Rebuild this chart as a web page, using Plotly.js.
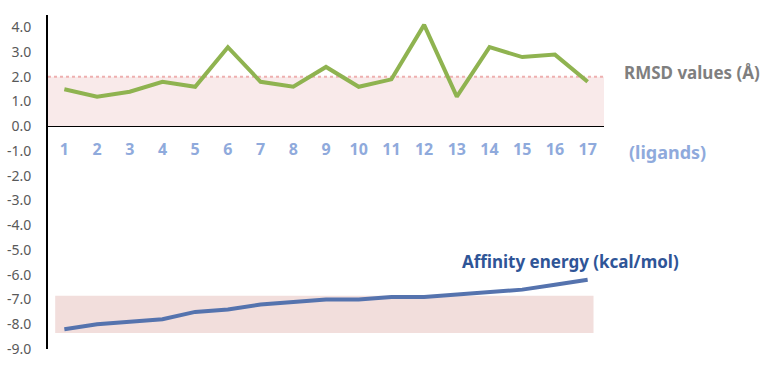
<!DOCTYPE html>
<html>
<head>
<meta charset="utf-8">
<script src="https://cdn.plot.ly/plotly-3.0.1.min.js"></script>
<style>html,body{margin:0;padding:0;background:#fff;}#chart{width:779px;height:367px;}</style>
</head>
<body>
<div id="chart"></div>
<script>
const ligands = [1,2,3,4,5,6,7,8,9,10,11,12,13,14,15,16,17];
const rmsd = [1.5,1.2,1.4,1.8,1.6,3.2,1.8,1.6,2.4,1.6,1.9,4.1,1.2,3.2,2.8,2.9,1.8];
const affinity = [-8.2,-8.0,-7.9,-7.8,-7.5,-7.4,-7.2,-7.1,-7.0,-7.0,-6.9,-6.9,-6.8,-6.7,-6.6,-6.4,-6.2];
const rmsdBand = [0, 2.0];
const rmsdThreshold = 2.0;
const affinityBand = [-8.35, -6.85];
const affinityBandX = [0.72, 17.18];
const yRange = [-9, 4.5];
const yTicks = [-9,-8,-7,-6,-5,-4,-3,-2,-1,0,1,2,3,4];

const traces = [
  {x: ligands, y: rmsd, type:'scatter', mode:'lines', line:{color:'#8fb350', width:4}, hoverinfo:'skip'},
  {x: ligands, y: affinity, type:'scatter', mode:'lines', line:{color:'#5573ae', width:4}, hoverinfo:'skip'}
];

const layout = {
  width: 779, height: 367,
  margin: {l:48, r:175, t:15, b:18},
  paper_bgcolor:'#fff', plot_bgcolor:'#fff',
  showlegend:false,
  font:{family:'Noto Sans, Open Sans, sans-serif'},
  xaxis: {
    range:[0.5,17.5], tickmode:'array', tickvals:ligands, ticktext:ligands.map(String),
    showgrid:false, zeroline:false, showline:false, ticks:'',
    anchor:'free', position:(0-yRange[0])/(yRange[1]-yRange[0]),
    ticklabelstandoff: 12,
    tickfont:{size:16, color:'#8faadc', family:'Noto Sans, sans-serif', weight:'bold'}
  },
  yaxis: {
    range:yRange, tickmode:'array', tickvals:yTicks, ticktext:yTicks.map(v=>v.toFixed(1)),
    showgrid:false, zeroline:true, zerolinecolor:'#000', zerolinewidth:1.5,
    showline:true, linecolor:'#000', linewidth:2, ticks:'',
    ticklabelstandoff: 12,
    tickfont:{size:14, color:'#595959'}
  },
  shapes: [
    {type:'rect', xref:'paper', yref:'y', x0:0, x1:1, y0:rmsdBand[0], y1:rmsdBand[1], fillcolor:'#f9eaea', line:{width:0}, layer:'below'},
    {type:'line', xref:'paper', yref:'y', x0:0, x1:1, y0:rmsdThreshold, y1:rmsdThreshold, line:{color:'#eeb0b0', width:2, dash:'dot'}, layer:'below'},
    {type:'rect', xref:'x', yref:'y', x0:affinityBandX[0], x1:affinityBandX[1], y0:affinityBand[0], y1:affinityBand[1], fillcolor:'#f2dedc', line:{width:0}, layer:'below'}
  ],
  annotations: [
    {text:'RMSD values (Å)', xref:'paper', yref:'paper', x:1.032, y:0.829, xanchor:'left', yanchor:'middle', showarrow:false,
     font:{size:17, color:'#7f7f7f', weight:'bold'}},
    {text:'(ligands)', xref:'paper', yref:'paper', x:1.041, y:0.59, xanchor:'left', yanchor:'middle', showarrow:false,
     font:{size:18, color:'#8faadc', weight:'bold'}},
    {text:'Affinity energy (kcal/mol)', xref:'paper', yref:'paper', x:0.741, y:0.263, xanchor:'left', yanchor:'middle', showarrow:false,
     font:{size:17, color:'#2f5597', weight:'bold'}}
  ]
};
Plotly.newPlot('chart', traces, layout, {staticPlot:true, displayModeBar:false});
</script>
</body>
</html>
